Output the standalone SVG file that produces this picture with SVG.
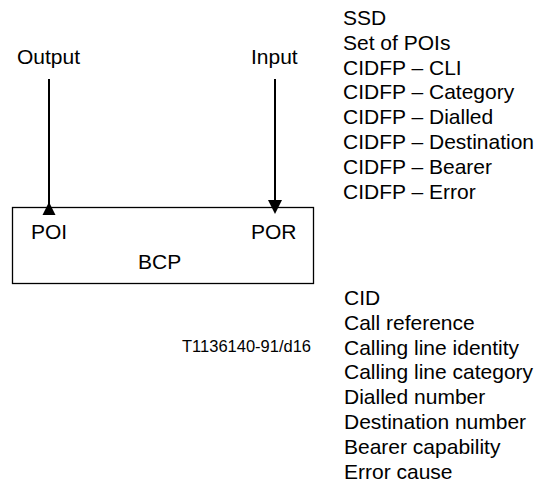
<svg xmlns="http://www.w3.org/2000/svg" width="538" height="487" viewBox="0 0 538 487">
<style>
text{font-family:"Liberation Sans",Arial,sans-serif;font-size:21px;fill:#000}
.small{font-size:16.5px}
.line{stroke:#000;stroke-width:2;fill:none}
.head{fill:#000;stroke:none}
</style>
<rect width="538" height="487" fill="#fff"/>
<g id="bcp">
<rect x="12.5" y="207.5" width="301" height="76" fill="none" stroke="#000" stroke-width="1.3"/>
<text x="31" y="238.5">POI</text>
<text x="251" y="238.5">POR</text>
<text x="138" y="269">BCP</text>
</g>
<g id="output-label"><text x="17" y="64">Output</text></g>
<g id="input-label"><text x="251" y="64">Input</text></g>
<g id="connectors">
<line class="line" x1="49" y1="79" x2="49" y2="210"/>
<polygon class="head" points="49,202 42.5,215 55.5,215"/>
<line class="line" x1="275" y1="79" x2="275" y2="202"/>
<polygon class="head" points="268,200 282,200 275,214"/>
</g>
<g id="ssd-list">
<text x="343" y="25">SSD</text>
<text x="343" y="49.8">Set of POIs</text>
<text x="343" y="74.6">CIDFP – CLI</text>
<text x="343" y="99.4">CIDFP – Category</text>
<text x="343" y="124.2">CIDFP – Dialled</text>
<text x="343" y="149">CIDFP – Destination</text>
<text x="343" y="173.8">CIDFP – Bearer</text>
<text x="343" y="198.6">CIDFP – Error</text>
</g>
<g id="cid-list">
<text x="344" y="305">CID</text>
<text x="344" y="329.8">Call reference</text>
<text x="344" y="354.6">Calling line identity</text>
<text x="344" y="379.4">Calling line category</text>
<text x="344" y="404.2">Dialled number</text>
<text x="344" y="429">Destination number</text>
<text x="344" y="453.8">Bearer capability</text>
<text x="344" y="478.6">Error cause</text>
</g>
<g id="figure-id"><text class="small" x="182" y="352">T1136140-91/d16</text></g>
</svg>
